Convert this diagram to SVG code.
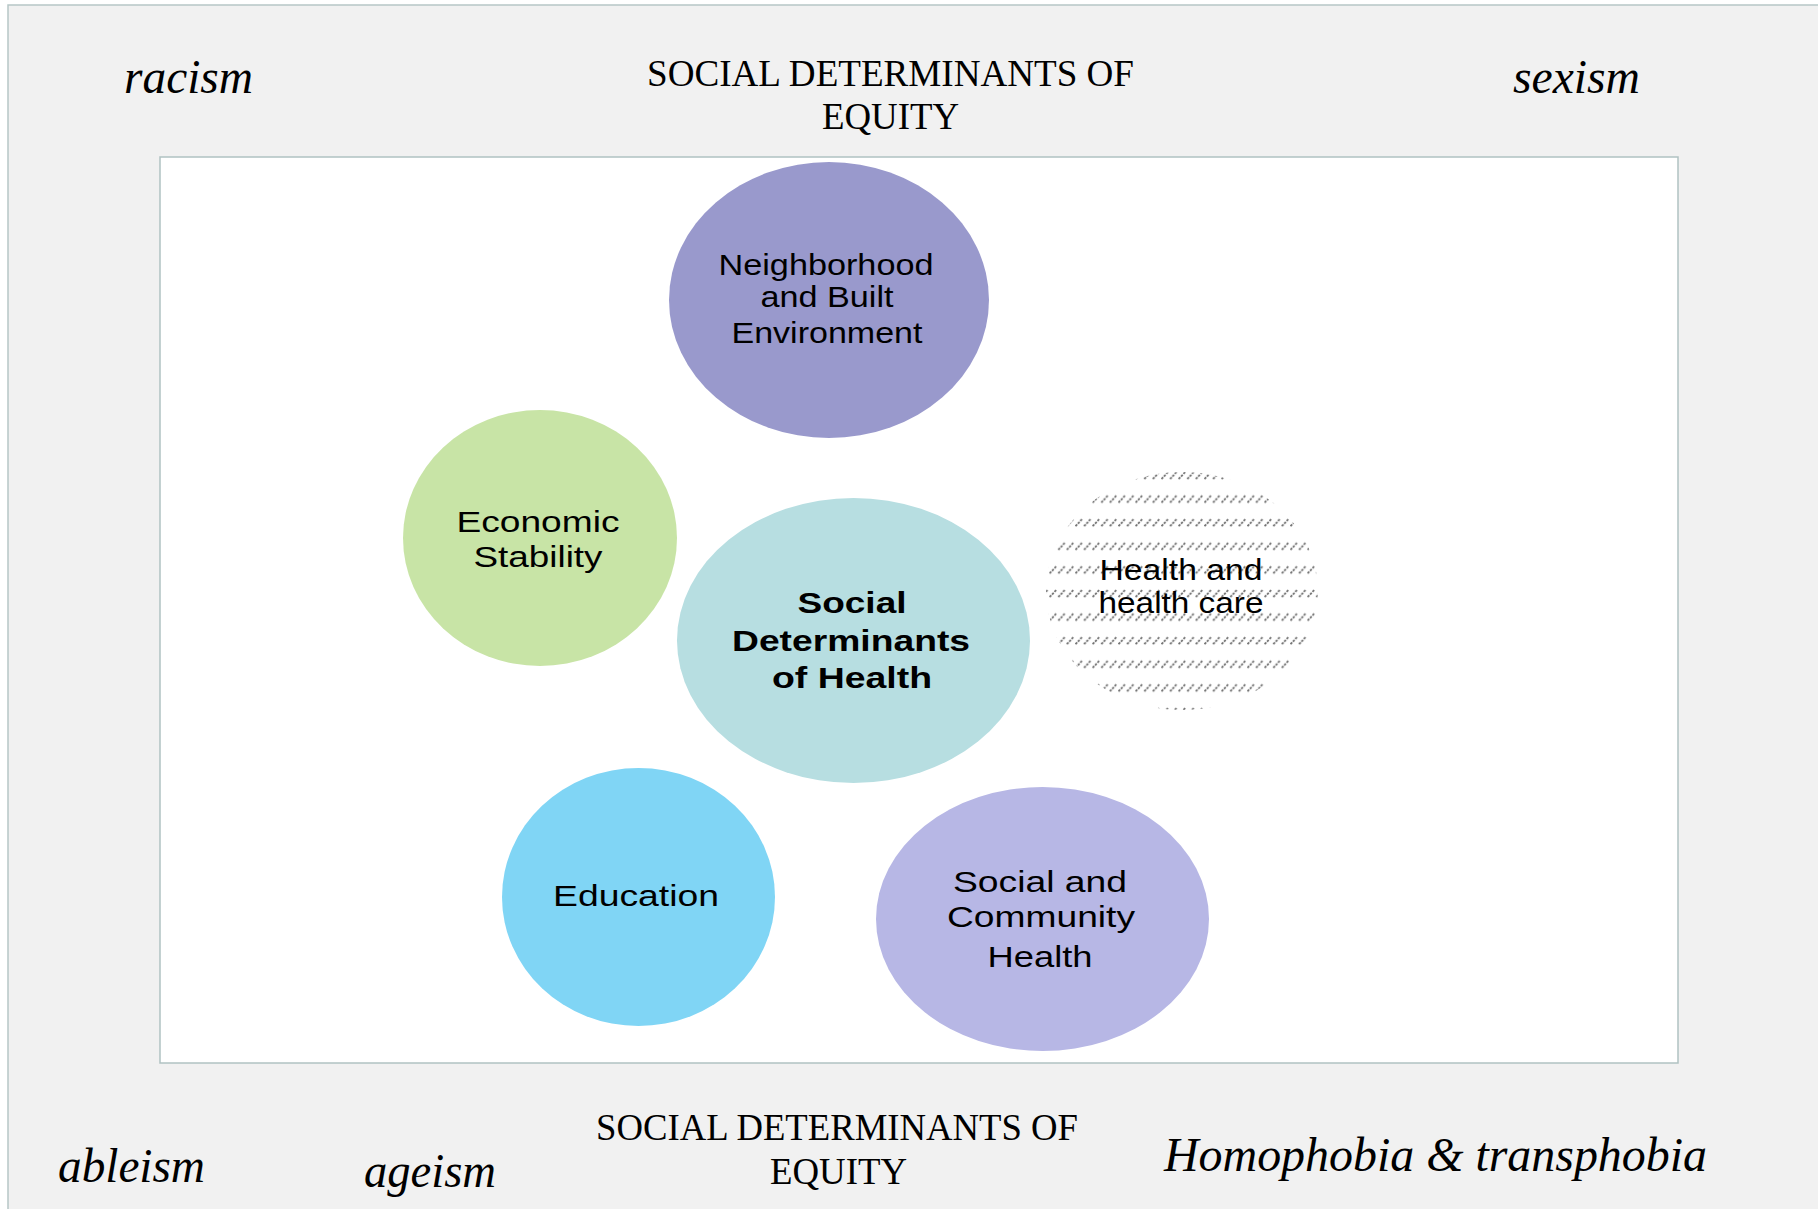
<svg xmlns="http://www.w3.org/2000/svg" width="1818" height="1209" viewBox="0 0 1818 1209">
<style>
.serif{font-family:"Liberation Serif","Times New Roman",serif;fill:#000}
.it{font-style:italic;font-size:48px}
.title{font-size:37px}
.lbl{font-family:"Liberation Sans",Arial,sans-serif;font-size:30px;fill:#000;text-anchor:middle}
.bold{font-weight:bold}
</style>
<defs>
<pattern id="hatch" patternUnits="userSpaceOnUse" x="0" y="470" width="8.6" height="23.6">
<line x1="0.5" y1="9" x2="7.5" y2="1.5" stroke="#707070" stroke-width="1.8" stroke-dasharray="2.4 1.1"/>
</pattern>
</defs>
<rect x="0" y="0" width="1818" height="1209" fill="#ffffff"/>
<rect x="8" y="5" width="1830" height="1230" fill="#f1f1f1" stroke="#b6c6c6" stroke-width="1.5"/>
<rect x="160" y="157" width="1518" height="906" fill="#ffffff" stroke="#b0c2c2" stroke-width="1.5"/>

<g id="labels">
<text class="serif it" x="124" y="93" textLength="129" lengthAdjust="spacingAndGlyphs">racism</text>
<text class="serif it" x="1513" y="93" textLength="127" lengthAdjust="spacingAndGlyphs">sexism</text>
<text class="serif title" x="647" y="86" textLength="487" lengthAdjust="spacingAndGlyphs">SOCIAL DETERMINANTS OF</text>
<text class="serif title" x="822" y="129" textLength="137" lengthAdjust="spacingAndGlyphs">EQUITY</text>
<text class="serif title" x="596" y="1140" textLength="482" lengthAdjust="spacingAndGlyphs">SOCIAL DETERMINANTS OF</text>
<text class="serif title" x="770" y="1184" textLength="137" lengthAdjust="spacingAndGlyphs">EQUITY</text>
<text class="serif it" x="58" y="1182" textLength="147" lengthAdjust="spacingAndGlyphs">ableism</text>
<text class="serif it" x="364" y="1187" textLength="132" lengthAdjust="spacingAndGlyphs">ageism</text>
<text class="serif it" x="1164" y="1171" textLength="543" lengthAdjust="spacingAndGlyphs">Homophobia &amp; transphobia</text>
</g>

<g id="connectors"></g>

<g id="node-neighborhood">
<ellipse cx="829" cy="300" rx="160" ry="138" fill="#9999cc"/>
<text class="lbl" x="826" y="275" textLength="215" lengthAdjust="spacingAndGlyphs">Neighborhood</text>
<text class="lbl" x="827" y="307" textLength="133" lengthAdjust="spacingAndGlyphs">and Built</text>
<text class="lbl" x="827" y="343" textLength="191" lengthAdjust="spacingAndGlyphs">Environment</text>
</g>

<g id="node-economic">
<ellipse cx="540" cy="538" rx="137" ry="128" fill="#c8e4a6"/>
<text class="lbl" x="538" y="532" textLength="163" lengthAdjust="spacingAndGlyphs">Economic</text>
<text class="lbl" x="538" y="567" textLength="129" lengthAdjust="spacingAndGlyphs">Stability</text>
</g>

<g id="node-sdoh">
<ellipse cx="853.5" cy="640.5" rx="176.5" ry="142.5" fill="#b7dee1"/>
<text class="lbl bold" x="852" y="613" textLength="109" lengthAdjust="spacingAndGlyphs">Social</text>
<text class="lbl bold" x="851" y="651" textLength="238" lengthAdjust="spacingAndGlyphs">Determinants</text>
<text class="lbl bold" x="852" y="688" textLength="160" lengthAdjust="spacingAndGlyphs">of Health</text>
</g>

<g id="node-healthcare">
<ellipse cx="1182" cy="591" rx="136" ry="119" fill="url(#hatch)"/>
<text class="lbl" x="1181" y="580" textLength="163" lengthAdjust="spacingAndGlyphs">Health and</text>
<text class="lbl" x="1181" y="613" textLength="165" lengthAdjust="spacingAndGlyphs">health care</text>
</g>

<g id="node-education">
<ellipse cx="638.5" cy="897" rx="136.5" ry="129" fill="#80d5f5"/>
<text class="lbl" x="636" y="906" textLength="166" lengthAdjust="spacingAndGlyphs">Education</text>
</g>

<g id="node-community">
<ellipse cx="1042.5" cy="919" rx="166.5" ry="132" fill="#b7b7e5"/>
<text class="lbl" x="1040" y="892" textLength="174" lengthAdjust="spacingAndGlyphs">Social and</text>
<text class="lbl" x="1041" y="927" textLength="188" lengthAdjust="spacingAndGlyphs">Community</text>
<text class="lbl" x="1040" y="967" textLength="105" lengthAdjust="spacingAndGlyphs">Health</text>
</g>
</svg>
